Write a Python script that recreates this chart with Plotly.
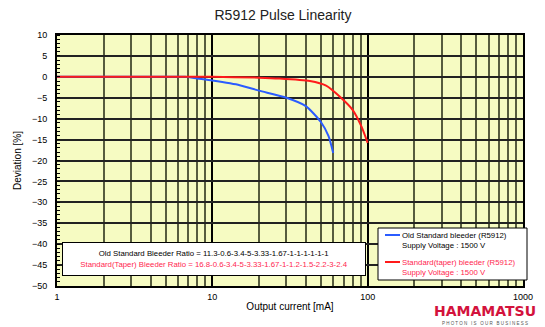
import plotly.graph_objects as go

# Data
current_old = [1, 5, 6.7, 8, 10, 15, 20, 30, 40, 50, 56, 60]
deviation_old = [0, 0, 0, -0.4, -0.9, -2.0, -3.3, -5.0, -7.0, -10.8, -14.2, -18.2]

current_taper = [1, 10, 20, 27, 42.5, 54, 66, 80, 91, 100]
deviation_taper = [0, 0, -0.2, -0.4, -1.0, -2.1, -4.7, -7.9, -11.8, -15.8]

x_tick_vals = [1, 10, 100, 1000]
x_tick_text = ["1", "10", "100", "1000"]
x_minor_vals = [m * d for d in (1, 10, 100) for m in range(2, 10)]
y_tick_vals = list(range(-50, 11, 5))

legend_old = ["Old Standard bleeder (R5912)", "Supply Voltage : 1500 V"]
legend_taper = ["Standard(taper) bleeder (R5912)", "Supply Voltage : 1500 V"]
ratio_old = "Old Standard Bleeder Ratio = 11.3-0.6-3.4-5-3.33-1.67-1-1-1-1-1-1"
ratio_taper = "Standard(Taper) Bleeder Ratio = 16.8-0.6-3.4-5-3.33-1.67-1-1.2-1.5-2.2-3-2.4"

BLUE = "#2b5cff"
RED = "#ff1a1a"
PINK = "#ff1f4f"
FONT = "Liberation Sans, Arial, sans-serif"

# The page body has an 8px default margin, so the figure is drawn 8px in
OFF = 8
FW, FH = 545 - OFF, 327 - OFF
# plot-area geometry in window pixels
L, R, T, B = 57, 523, 35, 286
W, H = R - L, B - T


def px(x):
    return (x - L) / W


def py(y):
    return (B - y) / H


fig = go.Figure()
fig.add_trace(go.Scatter(
    x=current_old, y=deviation_old, mode="lines",
    line=dict(color=BLUE, width=2, shape="spline", smoothing=0.6),
    name=legend_old[0], showlegend=False,
))
fig.add_trace(go.Scatter(
    x=current_taper, y=deviation_taper, mode="lines",
    line=dict(color=RED, width=2, shape="spline", smoothing=0.6),
    name=legend_taper[0], showlegend=False,
))

fig.update_layout(
    width=FW, height=FH,
    margin=dict(l=L - OFF, r=545 - R, t=T - OFF, b=327 - B, autoexpand=False),
    paper_bgcolor="white",
    plot_bgcolor="#f6fbc2",
    font=dict(family=FONT, size=9, color="black"),
    title=dict(text="R5912 Pulse Linearity", x=(283 - OFF) / FW, xanchor="center",
               y=1 - (15 - OFF) / FH, yanchor="middle",
               font=dict(family=FONT, size=14, color="#222")),
    showlegend=False,
)

fig.update_xaxes(
    type="log", range=[0, 3], automargin=False,
    tickvals=x_tick_vals, ticktext=x_tick_text,
    showgrid=True, gridcolor="black", gridwidth=2,
    minor=dict(tickmode="array", tickvals=x_minor_vals, showgrid=True,
               gridcolor="#575c3e", gridwidth=2, ticks=""),
    showline=True, linecolor="black", linewidth=2, mirror=True,
    ticks="", ticklabelstandoff=1,
    title=dict(text="Output current [mA]", font=dict(family=FONT, size=10), standoff=2),
    zeroline=False,
)
fig.update_yaxes(
    range=[-50, 10], tickvals=y_tick_vals, automargin=False,
    showgrid=True, gridcolor="#222", gridwidth=1.5,
    zeroline=False,
    minor=dict(dtick=1, ticks="inside", ticklen=3, tickcolor="black", showgrid=False),
    showline=True, linecolor="black", linewidth=2, mirror=True,
    ticks="", ticklabelstandoff=6,
    title=dict(text="Deviation [%]", font=dict(family=FONT, size=10), standoff=8),
)

# Ratio text box
fig.add_annotation(
    xref="paper", yref="paper",
    x=px(213.5), y=py(258.5),
    xanchor="center", yanchor="middle",
    text=ratio_old + "<br><span style='color:%s'>%s</span>" % (PINK, ratio_taper),
    showarrow=False, align="center",
    font=dict(family=FONT, size=7.8, color="black"),
    bgcolor="white", bordercolor="black", borderwidth=1,
    width=300, height=30,
)

# Legend box (drawn manually to match the compact original)
fig.add_shape(type="rect", xref="paper", yref="paper",
              x0=px(378), x1=px(527), y0=py(280), y1=py(228),
              fillcolor="white", line=dict(color="black", width=1), layer="above")
fig.add_shape(type="line", xref="paper", yref="paper",
              x0=px(385), x1=px(400), y0=py(235), y1=py(235),
              line=dict(color=BLUE, width=2), layer="above")
fig.add_shape(type="line", xref="paper", yref="paper",
              x0=px(385), x1=px(400), y0=py(262), y1=py(262),
              line=dict(color=RED, width=2), layer="above")
for txt, yy, col in [(legend_old[0], 235, "black"), (legend_old[1], 245, "black"),
                     (legend_taper[0], 262, PINK), (legend_taper[1], 272, PINK)]:
    fig.add_annotation(xref="paper", yref="paper", x=px(400), y=py(yy),
                       xanchor="left", yanchor="middle", text=txt, showarrow=False,
                       font=dict(family=FONT, size=7.8, color=col))

# Logo
fig.add_annotation(
    xref="paper", yref="paper", x=px(485), y=py(311),
    xanchor="center", yanchor="middle",
    text="<b>HAMAMATSU</b>", showarrow=False,
    font=dict(family="DejaVu Sans", size=14, color="#d3123c"),
)
fig.add_annotation(
    xref="paper", yref="paper", x=px(485), y=py(323),
    xanchor="center", yanchor="middle",
    text="P H O T O N   I S   O U R   B U S I N E S S", showarrow=False,
    font=dict(family=FONT, size=4.5, color="#555"),
)

fig.write_html("out.html")
